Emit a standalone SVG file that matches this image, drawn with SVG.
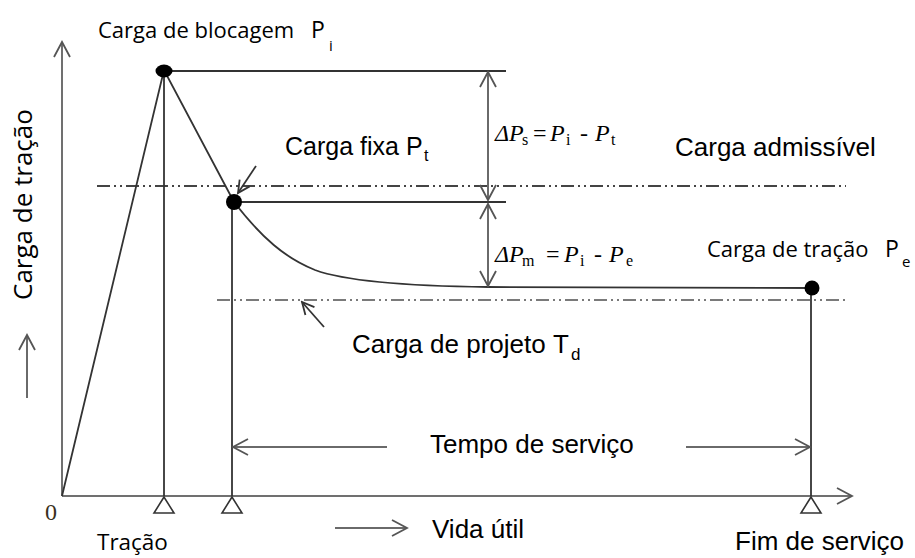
<svg xmlns="http://www.w3.org/2000/svg" width="915" height="558" viewBox="0 0 915 558">
<style>
.ln{stroke:#333;stroke-width:1.8;fill:none}
.ax{stroke:#707070;stroke-width:2;fill:none}
.gr{stroke:#6a6a6a;stroke-width:2;fill:none}
.dd{stroke:#444;stroke-width:1.8;fill:none;stroke-dasharray:13 4 2 4 2 4}
.dd2{stroke:#7a7a7a;stroke-width:1.8;fill:none;stroke-dasharray:13 4 2 4 2 4}
.tri{fill:#fff;stroke:#333;stroke-width:1.6}
.dot{fill:#000}
.os{font-family:"Open Sans","Liberation Sans",sans-serif;fill:#000}
.ar{font-family:"Liberation Sans",Arial,sans-serif;fill:#000;font-size:26px}
.tm{font-family:"Liberation Serif","Times New Roman",serif;fill:#000;font-size:24px}
</style>
<defs>
<marker id="arr" viewBox="-16 -10 18 20" refX="0" refY="0" markerWidth="18" markerHeight="20" markerUnits="userSpaceOnUse" orient="auto">
<path d="M-15,-8 L0,0 L-15,8" fill="none" stroke="#555" stroke-width="1.8"/>
</marker>
<marker id="arrS" viewBox="-14 -8 16 16" refX="0" refY="0" markerWidth="16" markerHeight="16" markerUnits="userSpaceOnUse" orient="auto">
<path d="M-12,-6 L0,0 L-12,6" fill="none" stroke="#333" stroke-width="1.8"/>
</marker>
</defs>

<g id="axes">
<line class="ax" x1="62" y1="496" x2="62" y2="42" marker-end="url(#arr)"/>
<line class="ax" x1="62" y1="496" x2="852" y2="496" marker-end="url(#arr)"/>
<text class="tm" x="45" y="520" style="fill:#3a3020">0</text>
</g>

<g id="y-label">
<text class="os" font-size="26" transform="translate(32,300) rotate(-90)">Carga de tração</text>
<line class="gr" x1="27" y1="398" x2="27" y2="335" marker-end="url(#arr)"/>
</g>

<g id="reference-lines">
<line class="dd" x1="97" y1="186" x2="846" y2="186"/>
<line class="dd2" x1="217" y1="300" x2="848" y2="300"/>
</g>

<g id="connectors">
<polyline class="ln" points="62,496 164,70 234,202"/>
<line class="ln" x1="164" y1="70" x2="164" y2="496"/>
<line class="ln" x1="232" y1="202" x2="232" y2="496"/>
<line class="ln" x1="811" y1="288" x2="811" y2="496"/>
<line class="ln" x1="164" y1="71" x2="506" y2="71"/>
<line class="ln" x1="234" y1="202" x2="506" y2="202"/>
<path class="ln" d="M234,202 C262,238 285,258 315,270 C345,281 400,286 488,287 L811,288"/>
<line class="gr" x1="488" y1="186" x2="488" y2="72" marker-end="url(#arr)"/>
<line class="gr" x1="488" y1="186" x2="488" y2="200" marker-end="url(#arr)"/>
<line class="gr" x1="488" y1="250" x2="488" y2="204" marker-end="url(#arr)"/>
<line class="gr" x1="488" y1="250" x2="488" y2="286" marker-end="url(#arr)"/>
<line class="ln" x1="256" y1="166" x2="238" y2="193" marker-end="url(#arrS)"/>
<line class="ln" x1="324" y1="327" x2="302" y2="302" marker-end="url(#arrS)"/>
<line class="gr" x1="387" y1="447" x2="233" y2="447" marker-end="url(#arr)"/>
<line class="gr" x1="686" y1="447" x2="810" y2="447" marker-end="url(#arr)"/>
<line class="gr" x1="335" y1="528" x2="407" y2="528" marker-end="url(#arr)"/>
</g>

<g id="node-pi">
<ellipse class="dot" cx="164" cy="71" rx="8.5" ry="6.5"/>
<polygon class="tri" points="164,497 154,513 174,513"/>
<text class="os" font-size="22" x="98" y="38">Carga de blocagem<tspan x="311" font-size="23">P</tspan><tspan font-size="15" x="329" y="51">i</tspan></text>
<text class="os" font-size="22.5" x="97" y="550">Tração</text>
</g>

<g id="node-pt">
<circle class="dot" cx="234" cy="202" r="8"/>
<polygon class="tri" points="232,497 222,513 242,513"/>
<text class="ar" x="285" y="155" style="font-size:25px">Carga fixa <tspan x="406">P</tspan><tspan x="424" y="161" style="font-size:16px">t</tspan></text>
</g>

<g id="node-pe">
<circle class="dot" cx="812" cy="288" r="7.5"/>
<polygon class="tri" points="811,497 801,513 821,513"/>
<text class="os" font-size="22" x="707" y="257">Carga de tração<tspan x="885" font-size="23">P</tspan><tspan font-size="15" x="902" y="267">e</tspan></text>
<text class="ar" x="735" y="550">Fim de serviço</text>
</g>

<g id="labels">
<text class="ar" x="675" y="156">Carga admissível</text>
<text class="ar" x="352" y="353">Carga de projeto <tspan x="553">T</tspan><tspan x="571" y="360" style="font-size:17px">d</tspan></text>
<text class="ar" x="430" y="453">Tempo de serviço</text>
<text class="ar" x="432" y="538">Vida útil</text>
<text class="tm" y="141"><tspan x="495" font-style="italic">ΔP</tspan><tspan x="522" y="145" font-size="16">s</tspan><tspan x="533" y="141">=</tspan><tspan x="550" font-style="italic">P</tspan><tspan x="566" y="145" font-size="16">i</tspan><tspan x="580" y="141">-</tspan><tspan x="595" font-style="italic">P</tspan><tspan x="611" y="145" font-size="16">t</tspan></text>
<text class="tm" y="262"><tspan x="495" font-style="italic">ΔP</tspan><tspan x="522" y="266" font-size="16">m</tspan><tspan x="546" y="262">=</tspan><tspan x="564" font-style="italic">P</tspan><tspan x="580" y="266" font-size="16">i</tspan><tspan x="594" y="262">-</tspan><tspan x="609" font-style="italic">P</tspan><tspan x="626" y="266" font-size="16">e</tspan></text>
</g>
</svg>
